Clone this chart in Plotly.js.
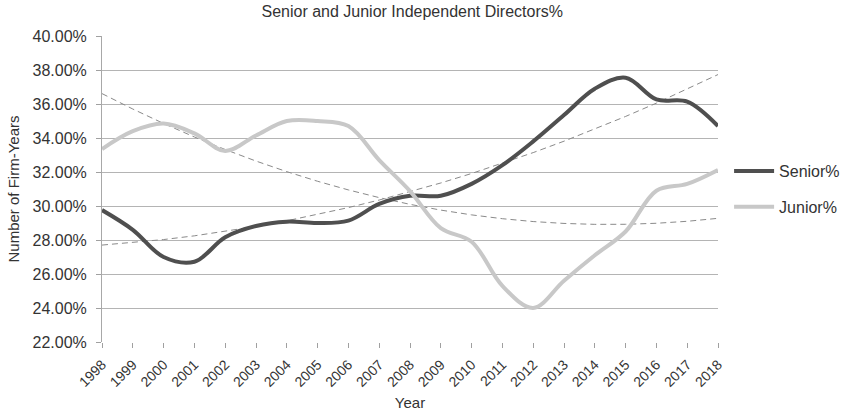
<!DOCTYPE html>
<html>
<head>
<meta charset="utf-8">
<script src="https://cdn.plot.ly/plotly-3.0.1.min.js"></script>
<style>html,body{margin:0;padding:0;background:#fff;}#chart{width:843px;height:413px;}</style>
</head>
<body>
<div id="chart"></div>
<script>
const years = ["1998","1999","2000","2001","2002","2003","2004","2005","2006","2007","2008","2009","2010","2011","2012","2013","2014","2015","2016","2017","2018"];
const senior = [29.76,28.6,27.0,26.72,28.16,28.82,29.08,29.0,29.14,30.12,30.6,30.6,31.3,32.4,33.8,35.35,36.9,37.55,36.27,36.14,34.7];
const junior = [33.35,34.4,34.85,34.27,33.24,34.15,35.0,35.0,34.7,32.7,30.88,28.7,27.9,25.3,24.0,25.6,27.1,28.5,30.9,31.3,32.12];
const seriesNames = ["Senior%","Junior%"];
const yTicks = [22,24,26,28,30,32,34,36,38,40];

// Excel-style polynomial (order 2) trendline: least-squares fit of the data arrays
function quadFit(ys){
  const n = ys.length; let S=[0,0,0,0,0], T=[0,0,0];
  for(let i=0;i<n;i++){const x=i+1; let p=1; for(let k=0;k<5;k++){S[k]+=p; if(k<3)T[k]+=p*ys[i]; p*=x;}}
  const A=[[S[0],S[1],S[2],T[0]],[S[1],S[2],S[3],T[1]],[S[2],S[3],S[4],T[2]]];
  for(let c=0;c<3;c++){for(let r=c+1;r<3;r++){const f=A[r][c]/A[c][c];for(let k=c;k<4;k++)A[r][k]-=f*A[c][k];}}
  const b=[0,0,0];
  for(let r=2;r>=0;r--){let s=A[r][3];for(let k=r+1;k<3;k++)s-=A[r][k]*b[k];b[r]=s/A[r][r];}
  return ys.map((_,i)=>{const x=i+1;return b[0]+b[1]*x+b[2]*x*x;});
}

const font = "Liberation Sans, Arial, sans-serif";
const traces = [
  {x:years,y:quadFit(senior),type:"scatter",mode:"lines",showlegend:false,hoverinfo:"skip",
   line:{color:"#8a8a8a",width:1,dash:"6px,4px"}},
  {x:years,y:quadFit(junior),type:"scatter",mode:"lines",showlegend:false,hoverinfo:"skip",
   line:{color:"#8a8a8a",width:1,dash:"6px,4px"}},
  {x:years,y:senior,name:seriesNames[0],type:"scatter",mode:"lines",legendgroup:"a",
   line:{color:"#4f4f4f",width:4,shape:"spline",smoothing:1}},
  {x:years,y:junior,name:seriesNames[1],type:"scatter",mode:"lines",legendgroup:"b",
   line:{color:"#c8c8c8",width:4,shape:"spline",smoothing:1}}
];
const layout = {
  width:843,height:413,
  margin:{l:102,r:125,t:36,b:71,autoexpand:false},
  paper_bgcolor:"#fff",plot_bgcolor:"#fff",
  font:{family:font,size:16,color:"#333"},
  title:{text:"Senior and Junior Independent Directors%",font:{size:16,color:"#333"},x:0.489,xanchor:"center",y:0.985,yanchor:"top"},
  xaxis:{type:"category",range:[0,20],tickangle:-45,ticks:"outside",ticklen:5,tickcolor:"#a0a0a0",
    tickfont:{size:14,color:"#333"},ticklabelstandoff:3,showgrid:false,zeroline:false,showline:false,
    title:{text:"Year",font:{size:15,color:"#333"},standoff:8}},
  yaxis:{range:[22,40],tickvals:yTicks,ticktext:yTicks.map(v=>v.toFixed(2)+"%"),showgrid:true,gridcolor:"#b4b4b4",gridwidth:1,
    showline:true,linecolor:"#a8a8a8",linewidth:1,zeroline:false,ticks:"outside",ticklen:5,tickcolor:"#a0a0a0",
    ticklabelstandoff:6,tickfont:{size:16,color:"#333"},title:{text:"Number of Firm-Years",font:{size:15,color:"#333"},standoff:9}},
  legend:{x:1.018,xanchor:"left",y:0.5,yanchor:"middle",font:{size:16,color:"#333"},traceorder:"grouped",tracegroupgap:12,
    itemwidth:40,bgcolor:"rgba(0,0,0,0)"},
  showlegend:true
};
Plotly.newPlot("chart",traces,layout,{displayModeBar:false,staticPlot:true});
</script>
</body>
</html>
